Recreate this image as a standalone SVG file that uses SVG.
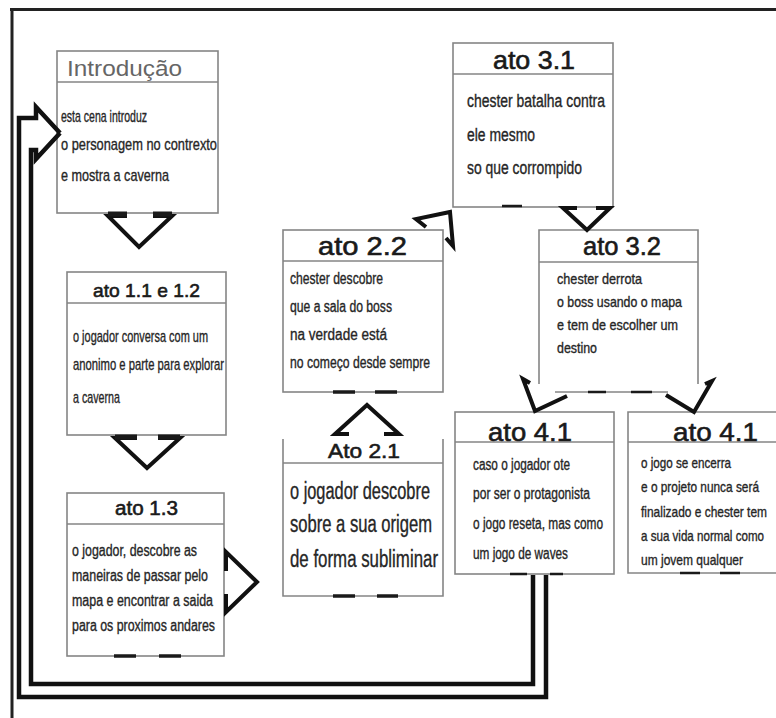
<svg xmlns="http://www.w3.org/2000/svg" width="776" height="718" viewBox="0 0 776 718">
<style>
.bx{fill:#fff;stroke:#858585;stroke-width:1.6}
.ln{fill:none;stroke:#858585;stroke-width:1.6}
.t{font-family:"Liberation Sans",Arial,sans-serif;fill:#1a1a1a;stroke:#1a1a1a;stroke-width:0.6;text-anchor:middle}
.b{font-family:"Liberation Sans",Arial,sans-serif;fill:#262626;stroke:#262626;stroke-width:0.35}
.ar{fill:none;stroke:#111;stroke-width:4;stroke-linejoin:miter;stroke-linecap:butt}
.st{stroke:#1a1a1a;stroke-width:3.5}
.lp{fill:none;stroke:#111;stroke-width:4.5;stroke-linejoin:miter}
.fr{fill:none;stroke:#222;stroke-width:3}
</style>
<rect width="776" height="718" fill="#fff"/>
<path class="fr" d="M10,9.5 H776 M12,8 V718"/>

<g id="intro">
<rect class="bx" x="57" y="51" width="161" height="162"/>
<line class="ln" x1="57" y1="82" x2="218" y2="82"/>
<text class="t" x="67" y="76" font-size="22" textLength="115" lengthAdjust="spacingAndGlyphs" style="text-anchor:start;fill:#666;stroke:none">Introdução</text>
<text class="b" font-size="17" x="61" y="122" textLength="86" lengthAdjust="spacingAndGlyphs">esta cena introduz</text>
<text class="b" font-size="17" x="61" y="150" textLength="156" lengthAdjust="spacingAndGlyphs">o personagem no contrexto</text>
<text class="b" font-size="17" x="61" y="181" textLength="108" lengthAdjust="spacingAndGlyphs">e mostra a caverna</text>
</g>

<g id="ato11">
<rect class="bx" x="67" y="272" width="159" height="163"/>
<line class="ln" x1="67" y1="303" x2="226" y2="303"/>
<text class="t" x="146.5" y="297" font-size="19" textLength="107" lengthAdjust="spacingAndGlyphs">ato 1.1 e 1.2</text>
<text class="b" font-size="17" x="73" y="342" textLength="135" lengthAdjust="spacingAndGlyphs">o jogador conversa com um</text>
<text class="b" font-size="17" x="73" y="370" textLength="151" lengthAdjust="spacingAndGlyphs">anonimo e parte para explorar</text>
<text class="b" font-size="17" x="73" y="403" textLength="47" lengthAdjust="spacingAndGlyphs">a caverna</text>
</g>

<g id="ato13">
<rect class="bx" x="67" y="493" width="157" height="163"/>
<line class="ln" x1="67" y1="524" x2="224" y2="524"/>
<text class="t" x="146.5" y="515" font-size="20" textLength="63" lengthAdjust="spacingAndGlyphs">ato 1.3</text>
<text class="b" font-size="16" x="72" y="556" textLength="125" lengthAdjust="spacingAndGlyphs">o jogador, descobre as</text>
<text class="b" font-size="16" x="72" y="581" textLength="136" lengthAdjust="spacingAndGlyphs">maneiras de passar pelo</text>
<text class="b" font-size="16" x="72" y="606" textLength="141" lengthAdjust="spacingAndGlyphs">mapa e encontrar a saida</text>
<text class="b" font-size="16" x="72" y="631" textLength="143" lengthAdjust="spacingAndGlyphs">para os proximos andares</text>
<path class="st" d="M114,656 H136 M159,656 H181"/>
</g>

<g id="ato22">
<rect class="bx" x="283" y="230" width="160" height="162"/>
<line class="ln" x1="283" y1="261" x2="443" y2="261"/>
<text class="t" x="362.5" y="255" font-size="26" textLength="89" lengthAdjust="spacingAndGlyphs">ato 2.2</text>
<text class="b" font-size="16" x="290" y="284" textLength="93" lengthAdjust="spacingAndGlyphs">chester descobre</text>
<text class="b" font-size="16" x="290" y="312" textLength="102" lengthAdjust="spacingAndGlyphs">que a sala do boss</text>
<text class="b" font-size="16" x="290" y="340" textLength="97" lengthAdjust="spacingAndGlyphs">na verdade está</text>
<text class="b" font-size="16" x="290" y="368" textLength="140" lengthAdjust="spacingAndGlyphs">no começo desde sempre</text>
<path class="st" d="M333,392 H355 M375,392 H397"/>
</g>

<g id="ato21">
<path class="ln" d="M283,439 V596 H443 V439"/>
<line class="ln" x1="283" y1="463" x2="443" y2="463"/>
<text class="t" x="364" y="457.5" font-size="21" textLength="72" lengthAdjust="spacingAndGlyphs">Ato 2.1</text>
<text class="b" font-size="23" x="290" y="499" textLength="140" lengthAdjust="spacingAndGlyphs">o jogador descobre</text>
<text class="b" font-size="23" x="290" y="532" textLength="142" lengthAdjust="spacingAndGlyphs">sobre a sua origem</text>
<text class="b" font-size="23" x="290" y="567" textLength="148" lengthAdjust="spacingAndGlyphs">de forma subliminar</text>
<path class="st" d="M333,596 H355 M377,596 H398"/>
</g>

<g id="ato31">
<rect class="bx" x="453" y="43" width="160" height="164"/>
<line class="ln" x1="453" y1="74" x2="613" y2="74"/>
<text class="t" x="534" y="69" font-size="25" textLength="82" lengthAdjust="spacingAndGlyphs">ato 3.1</text>
<text class="b" font-size="18" x="467" y="107" textLength="138" lengthAdjust="spacingAndGlyphs">chester batalha contra</text>
<text class="b" font-size="18" x="467" y="141" textLength="68" lengthAdjust="spacingAndGlyphs">ele mesmo</text>
<text class="b" font-size="18" x="467" y="174" textLength="115" lengthAdjust="spacingAndGlyphs">so que corrompido</text>
<path class="st" d="M502,206 H522" style="stroke-width:2.5"/>
</g>

<g id="ato32">
<path class="ln" d="M539,384 V230 H698 V384"/>
<line class="ln" x1="539" y1="262" x2="698" y2="262"/>
<line class="ln" x1="555" y1="392" x2="668" y2="392"/>
<text class="t" x="622" y="255" font-size="25" textLength="78" lengthAdjust="spacingAndGlyphs">ato 3.2</text>
<text class="b" font-size="15" x="557" y="284" textLength="85" lengthAdjust="spacingAndGlyphs">chester derrota</text>
<text class="b" font-size="15" x="557" y="307" textLength="125" lengthAdjust="spacingAndGlyphs">o boss usando o mapa</text>
<text class="b" font-size="15" x="557" y="330" textLength="121" lengthAdjust="spacingAndGlyphs">e tem de escolher um</text>
<text class="b" font-size="15" x="557" y="353" textLength="40" lengthAdjust="spacingAndGlyphs">destino</text>
<path class="st" d="M588,392 H606 M631,392 H652" style="stroke-width:2.5"/>
</g>

<g id="ato41a">
<rect class="bx" x="455" y="412" width="159" height="162"/>
<line class="ln" x1="455" y1="442" x2="614" y2="442"/>
<text class="t" x="530" y="441" font-size="26" textLength="84" lengthAdjust="spacingAndGlyphs">ato 4.1</text>
<text class="b" font-size="16" x="473" y="470" textLength="97" lengthAdjust="spacingAndGlyphs">caso o jogador ote</text>
<text class="b" font-size="16" x="473" y="499" textLength="117" lengthAdjust="spacingAndGlyphs">por ser o protagonista</text>
<text class="b" font-size="16" x="473" y="529" textLength="130" lengthAdjust="spacingAndGlyphs">o jogo reseta, mas como</text>
<text class="b" font-size="16" x="473" y="559" textLength="95" lengthAdjust="spacingAndGlyphs">um jogo de waves</text>
<path class="st" d="M510,574 H527 M550,574 H563" style="stroke-width:2.5"/>
</g>

<g id="ato41b">
<path class="ln" d="M776,412 H628 V573 H776"/>
<line class="ln" x1="628" y1="442" x2="776" y2="442"/>
<text class="t" x="715.5" y="441" font-size="26" textLength="85" lengthAdjust="spacingAndGlyphs">ato 4.1</text>
<text class="b" font-size="15" x="641" y="468" textLength="90" lengthAdjust="spacingAndGlyphs">o jogo se encerra</text>
<text class="b" font-size="15" x="641" y="492" textLength="118" lengthAdjust="spacingAndGlyphs">e o projeto nunca será</text>
<text class="b" font-size="15" x="641" y="517" textLength="126" lengthAdjust="spacingAndGlyphs">finalizado e chester tem</text>
<text class="b" font-size="15" x="641" y="541" textLength="123" lengthAdjust="spacingAndGlyphs">a sua vida normal como</text>
<text class="b" font-size="15" x="641" y="565" textLength="102" lengthAdjust="spacingAndGlyphs">um jovem qualquer</text>
<path class="st" d="M680,573 H700 M720,573 H740" style="stroke-width:2.5"/>
</g>

<g id="connectors">
<path class="ar" d="M127,216 H108 L139,247 L172,216 H153"/>
<path class="st" d="M108,214 H127 M153,214 H172" style="stroke-width:5"/>
<path class="ar" d="M137,438 H115 L147,468 L180,438 H158"/>
<path class="st" d="M115,437 H137 M158,437 H180" style="stroke-width:5"/>
<path class="ar" d="M226,571 V552 L257,582 L226,612 V594"/>
<path class="ar" d="M349,434 H335 L367,405 L399,434 H384"/>
<path class="ar" d="M426,227 L416,219 L450,212 L453,246 L446,238"/>
<path class="ar" d="M577,208 H563 L587,230 L610,208 H596"/>
<path class="ar" d="M530,383 L523,379 L535,411 L567,396"/>
<path class="ar" d="M705,384 L712,381 L694,412 L666,395"/>
<path class="lp" d="M546,575 V697 H19 V118 H36 V107 L60,133"/>
<path class="lp" d="M533,575 V684 H31 V150 H36 V159 L60,133"/>
</g>
</svg>
